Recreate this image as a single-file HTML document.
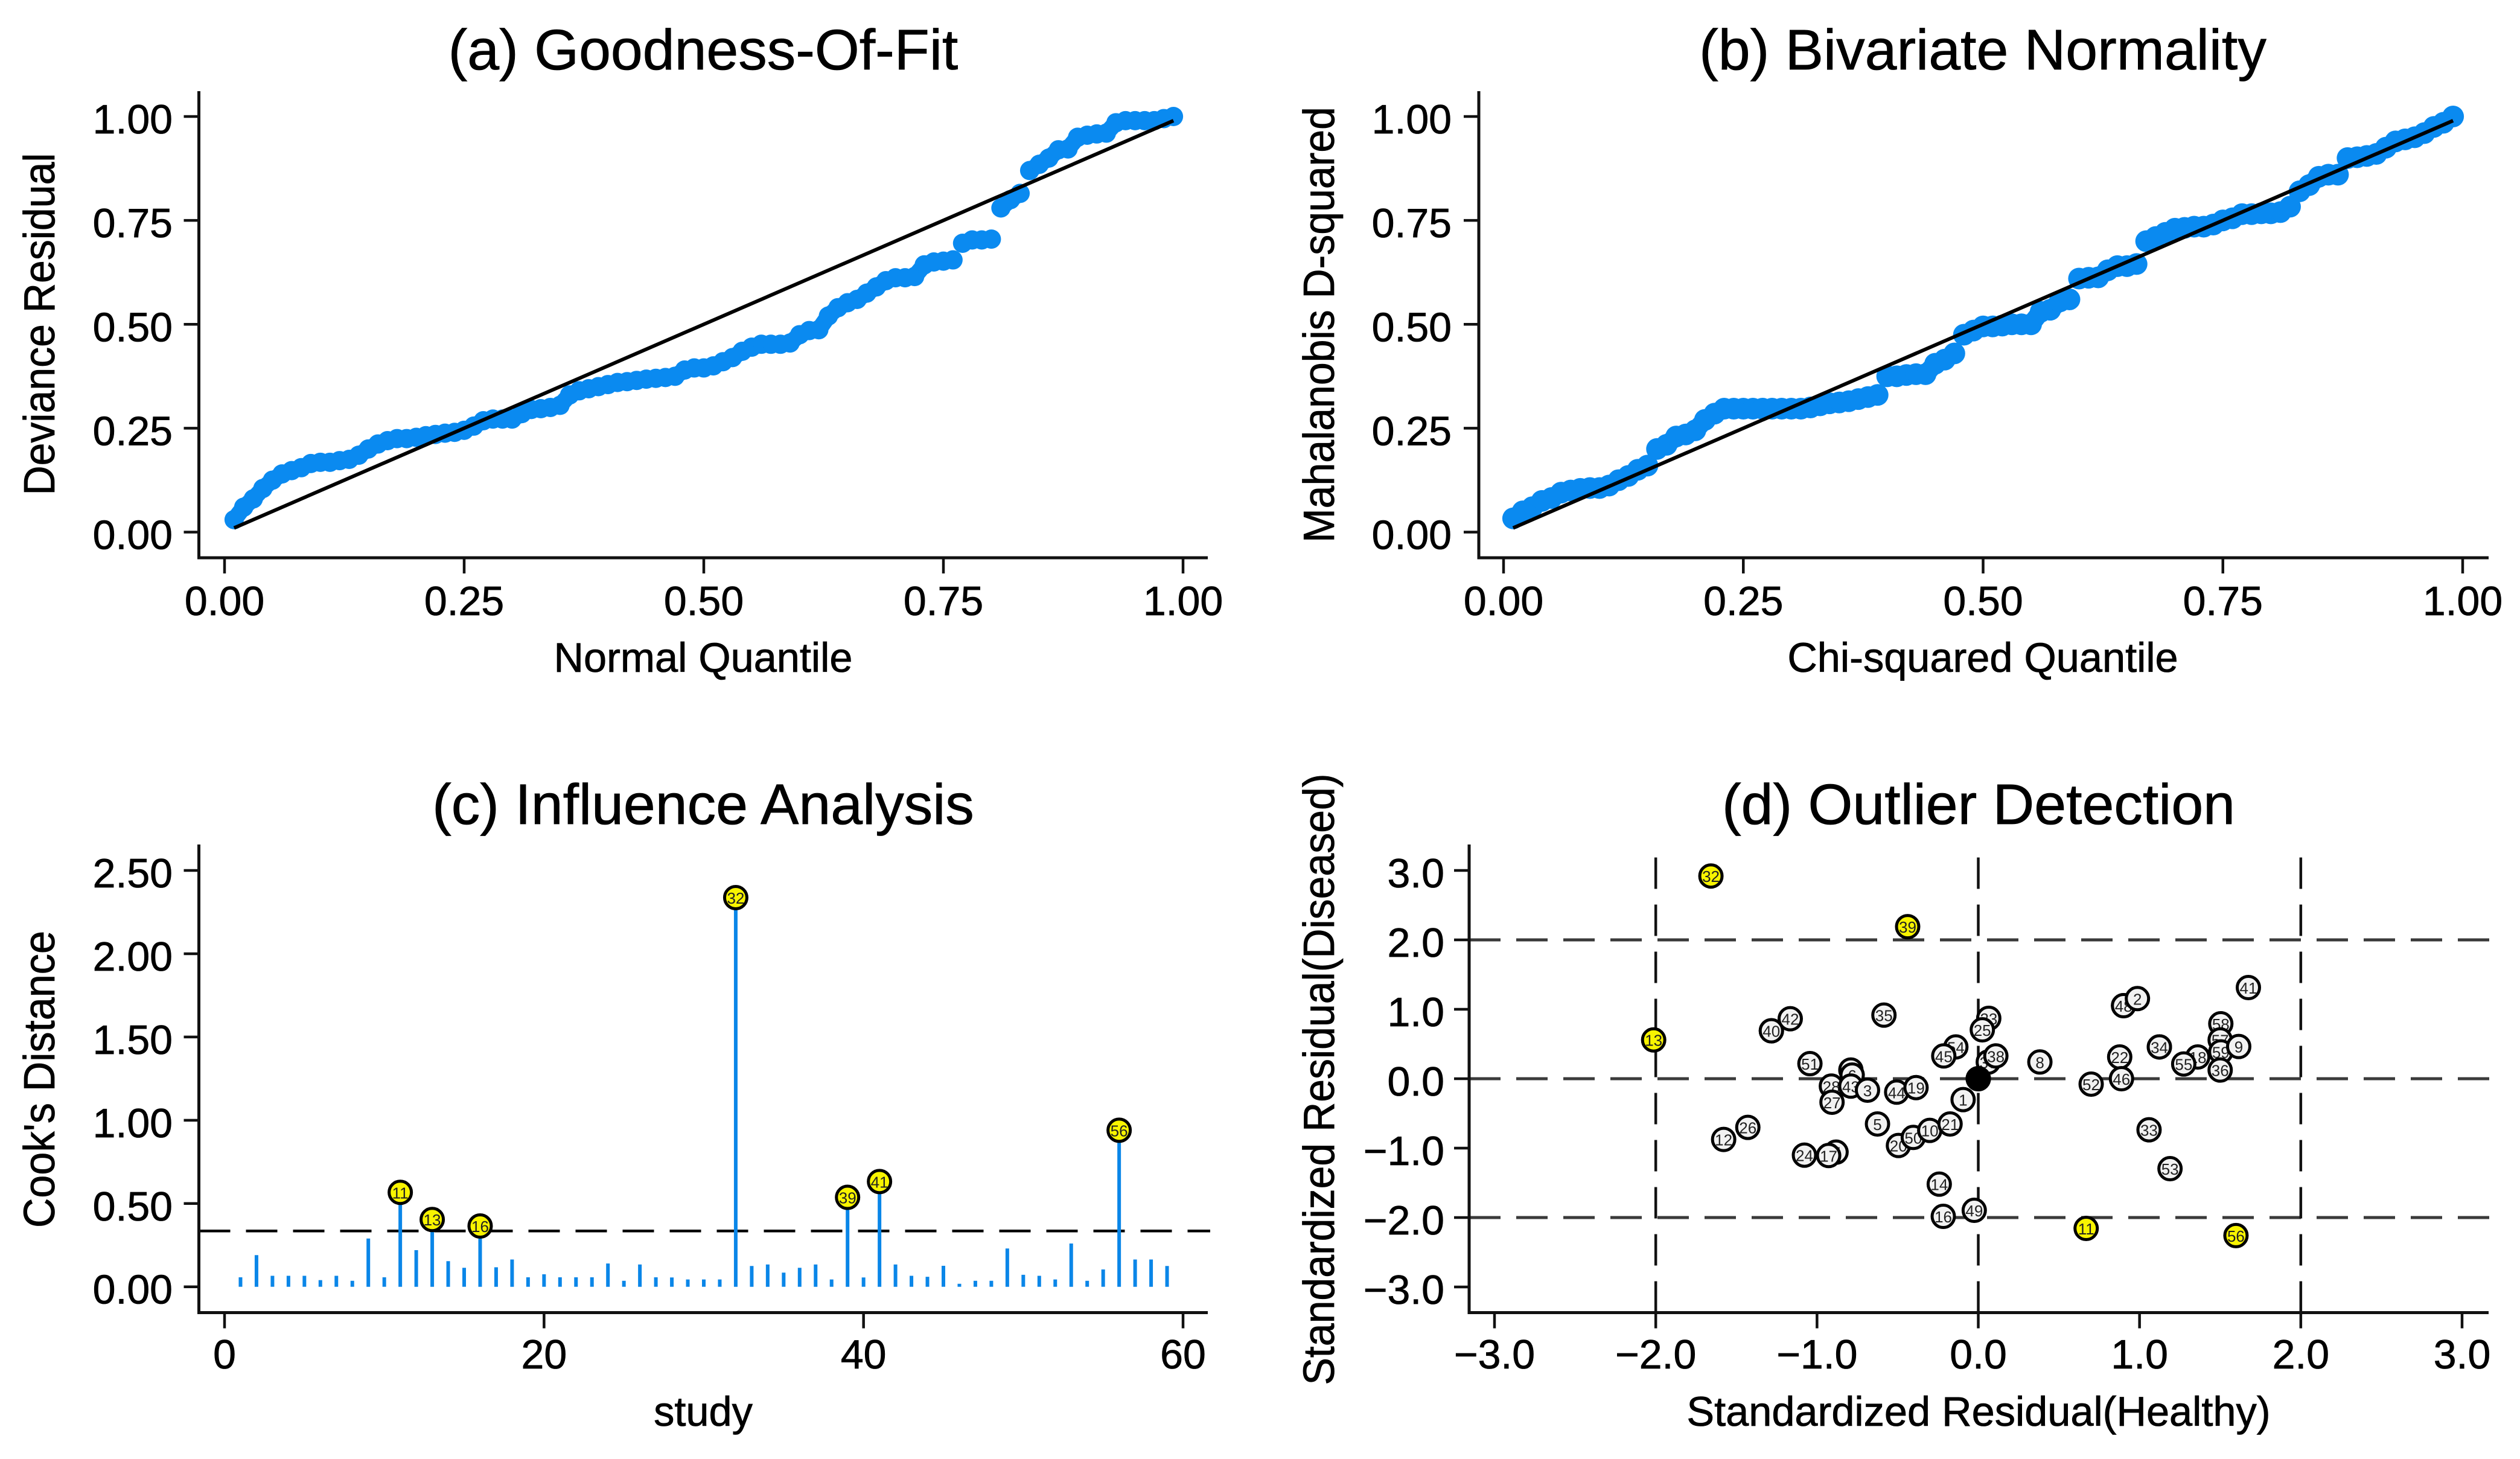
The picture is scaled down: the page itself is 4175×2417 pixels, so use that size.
<!DOCTYPE html>
<html>
<head>
<meta charset="utf-8">
<title>Diagnostic plots</title>
<style>
html,body{margin:0;padding:0;background:#fff;width:4175px;height:2417px;overflow:hidden}
svg{display:block}
text{font-family:"Liberation Sans",sans-serif;fill:#000;stroke:#000;stroke-width:.8px}
</style>
</head>
<body>
<svg id="figure" xmlns="http://www.w3.org/2000/svg" width="4175" height="2417" viewBox="0 0 4175 2417"></svg>
<script>
/* ---- panel (a) ---- */
const gofResiduals=[.03,.06,.08,.105,.125,.14,.148,.155,.165,.168,.168,.172,.175,.185,.20,.212,.22,.225,.225,.228,.232,.235,.238,.24,.245,.255,.268,.272,.272,.272,.285,.295,.297,.30,.305,.33,.34,.345,.35,.355,.36,.362,.365,.368,.37,.372,.375,.39,.395,.395,.40,.41,.42,.435,.445,.452,.452,.452,.455,.475,.485,.487,.52,.54,.552,.56,.575,.59,.605,.612,.612,.615,.643,.65,.652,.655,.695,.703,.703,.705,.78,.80,.815,.87,.885,.90,.92,.922,.95,.955,.958,.96,.985,.99,.99,.99,.99,.995,1.0];
/* ---- panel (b) ---- */
const mahalanobis=[.033,.05,.06,.075,.082,.095,.10,.104,.106,.106,.112,.125,.135,.15,.16,.20,.21,.23,.235,.245,.27,.285,.297,.297,.297,.297,.297,.297,.297,.297,.297,.30,.305,.31,.312,.315,.32,.325,.33,.375,.375,.378,.38,.38,.405,.415,.43,.475,.485,.495,.495,.497,.50,.50,.50,.53,.535,.555,.56,.61,.612,.613,.63,.64,.64,.645,.70,.71,.72,.73,.732,.735,.735,.74,.75,.755,.765,.765,.767,.767,.77,.783,.82,.835,.855,.86,.86,.90,.902,.905,.91,.925,.94,.945,.95,.96,.975,.985,1.0];
const quantileTicks=[0,0.25,0.5,0.75,1];
const quantileTickLabels=["0.00","0.25","0.50","0.75","1.00"];
/* ---- panel (c) ---- */
const cookDistance=[.057,.19,.066,.066,.066,.04,.066,.036,.29,.057,.567,.22,.404,.154,.114,.365,.117,.164,.057,.075,.057,.057,.057,.14,.036,.134,.057,.056,.044,.044,.044,2.337,.125,.134,.085,.114,.134,.044,.537,.056,.632,.134,.066,.06,.126,.018,.036,.036,.23,.072,.066,.044,.26,.036,.104,.94,.164,.164,.125];
const cookHighlighted=[11,13,16,32,39,41,56];
const cookThreshold=[0.335];
const cookYTicks=[0,0.5,1,1.5,2,2.5];
const cookYTickLabels=["0.00","0.50","1.00","1.50","2.00","2.50"];
const studyTicks=[0,20,40,60];
const studyTickLabels=["0","20","40","60"];
/* ---- panel (d) ---- */
const outlierStudy=[15,40,42,35,51,4,6,28,43,3,27,44,19,1,5,20,50,10,21,12,26,24,7,17,14,16,49,23,25,54,45,37,38,31,29,8,22,52,46,47,48,2,41,58,57,59,9,18,55,36,30,34,33,53,13,11,56,32,39];
const outlierHealthy=[-1.283,-1.283,-1.166,-.585,-1.044,-.79,-.782,-.911,-.79,-.687,-.907,-.506,-.386,-.094,-.625,-.495,-.403,-.301,-.175,-1.579,-1.429,-1.078,-.882,-.928,-.242,-.217,-.025,.065,.025,-.139,-.214,.062,.109,0,0,.382,.877,.70,.888,.901,.901,.987,1.675,1.504,1.50,1.504,1.615,1.361,1.274,1.50,1.123,1.123,1.059,1.189,-2.013,.669,1.598,-1.658,-.438];
const outlierDiseased=[.69,.69,.864,.916,.217,.125,.052,-.107,-.107,-.165,-.339,-.194,-.128,-.301,-.652,-.962,-.846,-.745,-.652,-.875,-.701,-1.101,-1.058,-1.107,-1.519,-1.983,-1.896,.87,.704,.458,.328,.24,.328,0,0,.241,.313,-.078,0,1.052,1.052,1.154,1.313,.791,.559,.386,.464,.313,.212,.125,.458,.458,-.736,-1.296,.559,-2.157,-2.26,2.92,2.19];
const flaggedOutliers=[13,11,56,32,39];
const summaryPoint=[0,-0.01];
const outlierGuideX=[-2,0,2];
const outlierGuideY=[2,0,-2];
const residualTicks=[-3,-2,-1,0,1,2,3];
const residualTickLabels=["\u22123.0","\u22122.0","\u22121.0","0.0","1.0","2.0","3.0"];

const NS="http://www.w3.org/2000/svg";
const BLUE="#0a8af0",STEM="#0a86e8",YELLOW="#f8f400";
const svg=document.getElementById('figure');

function mk(parent,tag,attrs,txt){
  const e=document.createElementNS(NS,tag);
  for(const k in attrs)e.setAttribute(k,attrs[k]);
  if(txt!==undefined)e.textContent=txt;
  parent.appendChild(e);
  return e;
}
function linear(d0,d1,r0,r1){return v=>r0+(v-d0)*(r1-r0)/(d1-d0);}

function panel(id,name){
  const g=mk(svg,'g',{id:id});
  
  
  return g;
}
function frame(g,p){
  const ax=mk(g,'path',{d:`M${p.left} ${p.top}V${p.bottom}H${p.right}`,fill:'none',stroke:'#111','stroke-width':5});
  
  
  p.xTicks.forEach((v,i)=>{
    const x=p.sx(v);
    const t=mk(g,'line',{x1:x,x2:x,y1:p.bottom,y2:p.bottom+26,stroke:'#111','stroke-width':4.5});
    
    
    const l=mk(g,'text',{x:x,y:p.xLabelY,'text-anchor':'middle','font-size':68},p.xLabels[i]);
    
    
  });
  p.yTicks.forEach((v,i)=>{
    const y=p.sy(v);
    const t=mk(g,'line',{x1:p.left-25,x2:p.left,y1:y,y2:y,stroke:'#111','stroke-width':4.5});
    
    
    const l=mk(g,'text',{x:p.yLabelX,y:y+28,'text-anchor':'end','font-size':68},p.yLabels[i]);
    
    
  });
  const title=mk(g,'text',{x:p.titleX,y:p.titleY,'text-anchor':'middle','font-size':95},p.title);
  
  
  const xt=mk(g,'text',{x:p.titleX,y:p.xTitleY,'text-anchor':'middle','font-size':68.5},p.xTitle);
  
  
  const yt=mk(g,'text',{x:p.yTitleX,y:p.yTitleY,'text-anchor':'middle','font-size':72,
    transform:`rotate(-90 ${p.yTitleX} ${p.yTitleY})`,textLength:p.yTitleLen,lengthAdjust:'spacingAndGlyphs'},p.yTitle);
  
  
}
function qqPanel(id,name,p,values,r){
  const g=panel(id,name);
  p.sx=linear(0,1,p.x0,p.x1);
  p.sy=linear(0,1,p.y0,p.y1);
  p.xTicks=quantileTicks;p.xLabels=quantileTickLabels;
  p.yTicks=quantileTicks;p.yLabels=quantileTickLabels;
  const qx=i=>p.sx((i+1)/(values.length+1));
  values.forEach((v,i)=>{
    /* the reference points overlap into a solid band, except across real jumps */
    if(i>0 && Math.abs(v-values[i-1])<0.035){
      const b=mk(g,'line',{x1:qx(i-1),y1:p.sy(values[i-1]),x2:qx(i),y2:p.sy(v),stroke:BLUE,'stroke-width':r*1.7,'stroke-linecap':'round'});
      
      
    }
    const c=mk(g,'circle',{cx:qx(i),cy:p.sy(v),r:r,fill:BLUE});
    
    
  });
  const ref=mk(g,'line',{x1:p.sx(.01),y1:p.sy(.01),x2:p.sx(.99),y2:p.sy(.99),stroke:'#000','stroke-width':6});
  
  
  frame(g,p);
}
function marker(g,x,y,label,fill,name){
  const c=mk(g,'circle',{cx:x,cy:y,r:18.5,fill:fill,stroke:'#000','stroke-width':5});
  
  
  const t=mk(g,'text',{x:x,y:y+10,'text-anchor':'middle','font-size':26,style:'fill:#222;stroke:none'},label);
  
  
}

qqPanel('panel-a','goodness-of-fit-panel',{
  left:329.5,right:2001,top:151,bottom:924,x0:372,x1:1960,y0:881.5,y1:193,
  xLabelY:1019,yLabelX:286,title:'(a) Goodness-Of-Fit',titleX:1165,titleY:115,
  xTitle:'Normal Quantile',xTitleY:1113,yTitle:'Deviance Residual',yTitleX:90,yTitleY:537,yTitleLen:567
},gofResiduals,16);

qqPanel('panel-b','bivariate-normality-panel',{
  left:2450,right:4123,top:151,bottom:924,x0:2491,x1:4080,y0:881.5,y1:193,
  xLabelY:1019,yLabelX:2405,title:'(b) Bivariate Normality',titleX:3285,titleY:115,
  xTitle:'Chi-squared Quantile',xTitleY:1113,yTitle:'Mahalanobis D-squared',yTitleX:2210,yTitleY:538,yTitleLen:722
},mahalanobis,18);

/* panel (c) */
(function(){
  const g=panel('panel-c','influence-analysis-panel');
  const p={left:329.5,right:2001,top:1399,bottom:2174.5,
    xLabelY:2267,yLabelX:286,title:'(c) Influence Analysis',titleX:1165,titleY:1365,
    xTitle:'study',xTitleY:2362,yTitle:"Cook's Distance",yTitleX:90,yTitleY:1788,yTitleLen:492,
    xTicks:studyTicks,xLabels:studyTickLabels,yTicks:cookYTicks,yLabels:cookYTickLabels,
    sx:linear(0,60,372,1960),sy:linear(0,2.5,2131.7,1442)};
  cookThreshold.forEach(v=>{
    const d=mk(g,'line',{x1:p.left,x2:p.right+4,y1:p.sy(v),y2:p.sy(v),stroke:'#000','stroke-width':4.5,'stroke-dasharray':'52 26'});
    
    
  });
  cookDistance.forEach((v,i)=>{
    const s=mk(g,'line',{x1:p.sx(i+1),x2:p.sx(i+1),y1:p.sy(0),y2:p.sy(v),stroke:STEM,'stroke-width':6});
    
    
  });
  cookHighlighted.forEach(st=>{
    marker(g,p.sx(st),p.sy(cookDistance[st-1]),String(st),YELLOW,'influential-study-marker');
  });
  frame(g,p);
})();

/* panel (d) */
(function(){
  const g=panel('panel-d','outlier-detection-panel');
  const p={left:2434,right:4123,top:1399,bottom:2174.5,
    xLabelY:2267,yLabelX:2393,title:'(d) Outlier Detection',titleX:3278,titleY:1365,
    xTitle:'Standardized Residual(Healthy)',xTitleY:2362,yTitle:'Standardized Residual(Diseased)',yTitleX:2210,yTitleY:1788,yTitleLen:1013,
    xTicks:residualTicks,xLabels:residualTickLabels,yTicks:residualTicks,yLabels:residualTickLabels,
    sx:linear(-3,3,2476,4079),sy:linear(-3,3,2132,1442)};
  outlierGuideY.forEach(v=>{
    const d=mk(g,'line',{x1:p.left,x2:p.right+4,y1:p.sy(v),y2:p.sy(v),stroke:'#3a3a3a','stroke-width':5,'stroke-dasharray':'52 26'});
    
    
  });
  outlierGuideX.forEach(v=>{
    const d=mk(g,'line',{x1:p.sx(v),x2:p.sx(v),y1:p.bottom,y2:p.top,stroke:'#111','stroke-width':4.5,'stroke-dasharray':'52 26'});
    
    
  });
  outlierStudy.forEach((st,i)=>{
    const flagged=flaggedOutliers.indexOf(st)>=0;
    marker(g,p.sx(outlierHealthy[i]),p.sy(outlierDiseased[i]),String(st),flagged?YELLOW:'#f2f2f2',flagged?'outlier-study-marker':'study-marker');
  });
  const m=mk(g,'circle',{cx:p.sx(summaryPoint[0]),cy:p.sy(summaryPoint[1]),r:19,fill:'#000'});
  
  
  frame(g,p);
})();
</script>
</body>
</html>
